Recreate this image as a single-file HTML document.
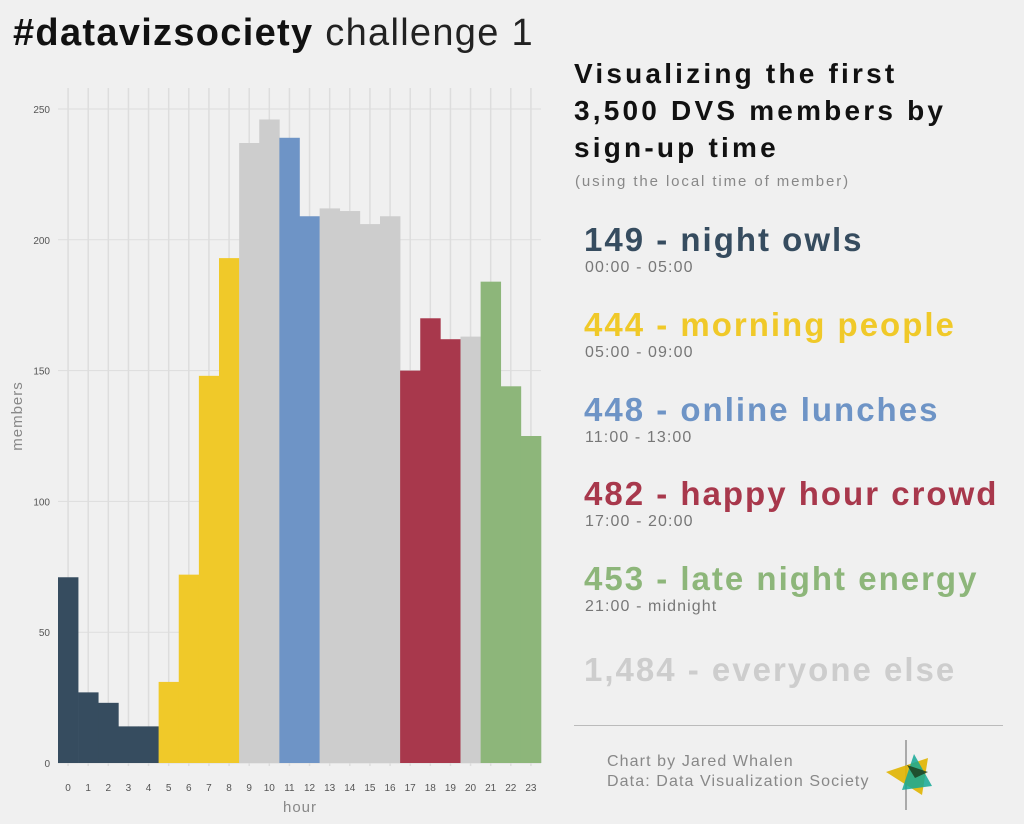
<!DOCTYPE html>
<html><head><meta charset="utf-8"><style>
body{margin:0;width:1024px;height:824px;background:#f0f0f0;overflow:hidden;font-family:"Liberation Sans",sans-serif;position:relative}
.a{position:absolute;white-space:nowrap}
.big{font-weight:bold;font-size:33px;letter-spacing:2px}
.sub{font-size:16px;color:#777;letter-spacing:1.1px}
</style></head><body>
<div class="a" style="left:13px;top:12px;font-size:38px;color:#111;letter-spacing:1.3px"><b>#datavizsociety</b> <span style="font-weight:normal;color:#222">challenge 1</span></div>
<div class="a" style="left:574px;top:55px;font-size:28px;font-weight:bold;line-height:37px;color:#111;letter-spacing:3.2px">Visualizing the first<br>3,500 DVS members by<br>sign-up time</div>
<div class="a" style="left:575px;top:173px;font-size:15px;color:#888;letter-spacing:1.9px">(using the local time of member)</div>
<div class="a big" style="left:584px;top:221px;color:#364c5f">149 - night owls</div>
<div class="a sub" style="left:585px;top:259px">00:00 - 05:00</div>
<div class="a big" style="left:584px;top:306px;color:#f0c929">444 - morning people</div>
<div class="a sub" style="left:585px;top:344px">05:00 - 09:00</div>
<div class="a big" style="left:584px;top:391px;color:#6e94c6">448 - online lunches</div>
<div class="a sub" style="left:585px;top:429px">11:00 - 13:00</div>
<div class="a big" style="left:584px;top:475px;color:#a8384c">482 - happy hour crowd</div>
<div class="a sub" style="left:585px;top:513px">17:00 - 20:00</div>
<div class="a big" style="left:584px;top:560px;color:#8db67a">453 - late night energy</div>
<div class="a sub" style="left:585px;top:598px">21:00 - midnight</div>
<div class="a big" style="left:584px;top:651px;color:#cdcdcd">1,484 - everyone else</div>
<div class="a" style="left:574px;top:725px;width:429px;height:1px;background:#bbb"></div>
<div class="a" style="left:607px;top:752px;font-size:16px;line-height:20px;color:#888;letter-spacing:1.1px">Chart by Jared Whalen<br>Data: Data Visualization Society</div>
<svg class="a" style="left:0;top:0" width="1024" height="824">
<line x1="906" y1="740" x2="906" y2="810" stroke="#aaa" stroke-width="2"/>
<polygon points="886,772 928,758 922,795" fill="#e0b400" opacity="0.9"/>
<polygon points="914,754 932,786 902,790" fill="#14a896" opacity="0.85"/>
<polygon points="907,765 928,772 915,778" fill="#1a3a1a" opacity="0.8"/>
<g id="chart"></g>
<text x="22" y="416" transform="rotate(-90 22 416)" text-anchor="middle" font-size="15" fill="#888" font-family="Liberation Sans" letter-spacing="1">members</text>
<text x="300" y="812" text-anchor="middle" font-size="15" fill="#888" font-family="Liberation Sans" letter-spacing="1">hour</text>
</svg>
<script>
var v=[71,27,23,14,14,31,72,148,193,237,246,239,209,212,211,206,209,150,170,162,163,184,144,125];
var c=["#364c5f","#364c5f","#364c5f","#364c5f","#364c5f","#f0c929","#f0c929","#f0c929","#f0c929","#cdcdcd","#cdcdcd","#6e94c6","#6e94c6","#cdcdcd","#cdcdcd","#cdcdcd","#cdcdcd","#a8384c","#a8384c","#a8384c","#cdcdcd","#8db67a","#8db67a","#8db67a"];
var s="",w=20.125,y0=763,k=2.616;
for(var t=0;t<=250;t+=50){var y=y0-t*k;s+='<line x1="58" x2="541" y1="'+y+'" y2="'+y+'" stroke="#ddd"/><text x="50" y="'+(y+4)+'" text-anchor="end" font-size="10" fill="#555" font-family="Liberation Sans">'+t+'</text>';}
for(var i=0;i<24;i++){var x=58+w*(i+0.5);s+='<line x1="'+x+'" x2="'+x+'" y1="88" y2="766" stroke="#ddd" stroke-width="1.5"/><text x="'+x+'" y="791" text-anchor="middle" font-size="10" fill="#555" font-family="Liberation Sans">'+i+'</text>';}
for(var i=0;i<24;i++){var h=v[i]*k;s+='<rect x="'+(58+w*i)+'" y="'+(y0-h)+'" width="'+(w+0.3)+'" height="'+h+'" fill="'+c[i]+'"/>';}
document.getElementById("chart").innerHTML=s;
</script>
</body></html>
